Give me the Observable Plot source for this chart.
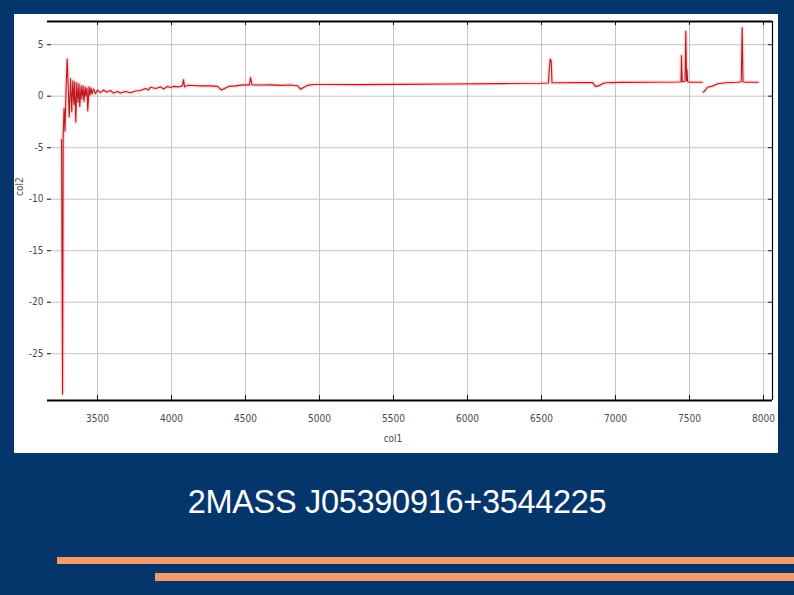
<!DOCTYPE html>
<html>
<head>
<meta charset="utf-8">
<script src="https://cdn.jsdelivr.net/npm/d3@7"></script>
<script src="https://cdn.jsdelivr.net/npm/@observablehq/plot@0.6"></script>
<style>
  html, body { margin: 0; padding: 0; }
  body { width: 794px; height: 595px; background: #04366b; position: relative; overflow: hidden; font-family: "Liberation Sans", Arial, sans-serif; }
  #panel { position: absolute; left: 14px; top: 14px; width: 764px; height: 439px; background: #ffffff; }
  #panel svg { display: block; }
  #title { position: absolute; left: 0; top: 484px; width: 794px; text-align: center; color: #ffffff; font-size: 32.5px; font-family: "Liberation Sans", Arial, sans-serif; letter-spacing: -0.3px; }
  .bar { position: absolute; background: #f6996a; }
</style>
</head>
<body>
<div id="panel"></div>
<div id="title">2MASS J05390916+3544225</div>
<div class="bar" style="left:57px; top:557px; width:737px; height:7px;"></div>
<div class="bar" style="left:155px; top:573px; width:639px; height:8px;"></div>
<script>
// wavelength (col1)
const col1 = [
  3257, 3264, 3268, 3274, 3280, 3287, 3295, 3309, 3318, 3326, 3333, 3341, 3346, 3353, 3360, 3368,
  3375, 3380, 3389, 3395, 3402, 3409, 3416, 3422, 3429, 3434, 3443, 3449, 3456, 3463, 3473, 3486,
  3500, 3520, 3541, 3561, 3588, 3608, 3635, 3655, 3689, 3723, 3757, 3791, 3824, 3845, 3858, 3892,
  3926, 3946, 3973, 3993, 4014, 4047, 4074, 4081, 4088, 4108, 4149, 4196, 4264, 4311, 4338, 4358,
  4385, 4432, 4487, 4527, 4534, 4544, 4601, 4669, 4737, 4804, 4851, 4872, 4892, 4919, 4960, 5074,
  5277, 5547, 5885, 6223, 6493, 6547, 6554, 6559, 6566, 6571, 6581, 6628, 6764, 6845, 6865, 6885,
  6919, 6939, 7034, 7237, 7426, 7443, 7446, 7451, 7470, 7475, 7480, 7483, 7488, 7507, 7586, 7590,
  7593, 7608, 7622, 7649, 7690, 7744, 7824, 7850, 7856, 7862, 7878, 7964
];
// flux (col2); null marks the gap in the spectrum
const col2 = [
  -4.2, -28.9, -3.8, -1.2, -3.4, 0.5, 3.6, -2.0, 1.7, -1.5, 1.5, -0.8, 1.4, -2.5, 1.3, -0.6,
  1.2, -1.0, 1.0, -0.3, 1.0, -0.5, 0.9, 0.0, 0.8, -1.4, 0.9, 0.1, 0.8, 0.2, 0.7, 0.25,
  0.6, 0.35, 0.6, 0.4, 0.55, 0.3, 0.45, 0.3, 0.45, 0.33, 0.5, 0.55, 0.75, 0.6, 0.87, 0.75,
  0.9, 0.7, 0.95, 0.85, 0.95, 0.9, 1.0, 1.6, 0.9, 1.05, 1.04, 1.0, 1.0, 0.95, 0.6, 0.75,
  0.95, 1.0, 1.1, 1.1, 1.8, 1.1, 1.08, 1.1, 1.05, 1.08, 1.02, 0.68, 0.85, 1.05, 1.13, 1.13,
  1.12, 1.15, 1.18, 1.22, 1.25, 1.28, 2.9, 3.6, 3.4, 1.3, 1.3, 1.3, 1.32, 1.32, 0.95, 1.0,
  1.25, 1.3, 1.34, 1.35, 1.38, 1.4, 3.95, 1.4, 1.45, 6.3, 1.5, 2.6, 1.4, 1.36, 1.36, null,
  0.39, 0.6, 0.87, 0.95, 1.2, 1.3, 1.36, 1.4, 6.64, 1.4, 1.36, 1.36
];
const xTicks = [3500, 4000, 4500, 5000, 5500, 6000, 6500, 7000, 7500, 8000];
const yTicks = [5, 0, -5, -10, -15, -20, -25];
const xDomain = [3162, 8061];
const yDomain = [-29.54, 7.25];

const spectrum = col1.map((w, i) => ({col1: w, col2: col2[i]}));

const W = 764, H = 439, mL = 33, mR = 6, mT = 7, mB = 53;
const innerW = W - mL - mR, innerH = H - mT - mB;
const tickFont = "'Liberation Sans Narrow', 'DejaVu Sans Condensed', 'Liberation Sans', sans-serif";
const plain = d => String(d);

const chart = Plot.plot({
  width: W, height: H,
  marginLeft: mL, marginRight: mR, marginTop: mT, marginBottom: mB,
  style: {background: "#ffffff", fontFamily: tickFont, fontSize: "10px", color: "#4a4a4a"},
  x: {domain: xDomain},
  y: {domain: yDomain},
  marks: [
    Plot.gridX(xTicks, {stroke: "#c4c4c4", strokeOpacity: 1, strokeWidth: 1}),
    Plot.gridY(yTicks, {stroke: "#c4c4c4", strokeOpacity: 1, strokeWidth: 1}),
    // inward tick marks
    Plot.tickX(xTicks, {stroke: "#111", insetTop: innerH - 5}),
    Plot.tickX(xTicks, {stroke: "#111", insetBottom: innerH - 4}),
    Plot.tickY(yTicks, {stroke: "#222", insetRight: innerW - 4}),
    Plot.tickY(yTicks, {stroke: "#222", insetLeft: innerW - 4}),
    Plot.axisX(xTicks, {anchor: "bottom", tickSize: 0, tickPadding: 14, label: null, tickFormat: plain, fill: "#4a4a4a"}),
    Plot.axisY(yTicks, {anchor: "left", tickSize: 0, tickPadding: 4, label: null, tickFormat: plain, fill: "#4a4a4a"}),
    // frame lines
    Plot.ruleY([yDomain[1]], {stroke: "#000", strokeWidth: 2}),
    Plot.ruleY([yDomain[0]], {stroke: "#000", strokeWidth: 2}),
    Plot.ruleX([xDomain[1]], {stroke: "#000", strokeWidth: 1.2}),
    // pale halo and spectrum line
    Plot.line(spectrum, {x: "col1", y: "col2", stroke: "#f3b3b3", strokeWidth: 4, strokeOpacity: 0.45}),
    Plot.line(spectrum, {x: "col1", y: "col2", stroke: "#bf161e", strokeWidth: 1.1}),
    // axis titles
    Plot.text(["col1"], {frameAnchor: "bottom", dx: -17, dy: 41, fill: "#4a4a4a", fontSize: 10}),
    Plot.text(["col2"], {frameAnchor: "left", rotate: -90, dx: -28, dy: -15, fill: "#4a4a4a", fontSize: 10})
  ]
});
document.getElementById("panel").appendChild(chart);
</script>
</body>
</html>
